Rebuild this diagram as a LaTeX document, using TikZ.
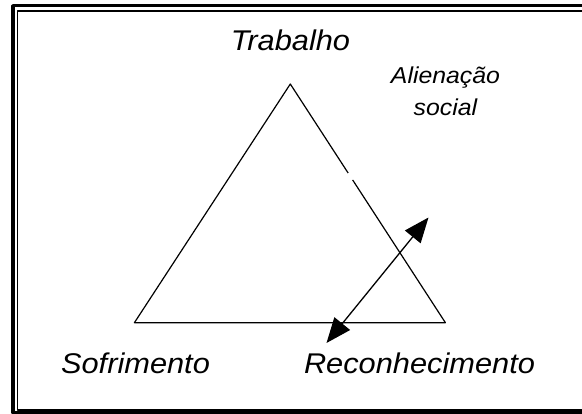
\documentclass[tikz,border=0pt]{standalone}
\usepackage{fontspec}
\newfontfamily\lblfont[FakeStretch=1.08]{Liberation Sans}
\usetikzlibrary{arrows.meta,calc}

\begin{document}
\begin{tikzpicture}[x=1pt, y=-1pt, line join=round, >={Triangle[length=25pt,width=20pt]},
	lbl/.style={inner sep=0pt, anchor=base, font=\lblfont\itshape\fontsize{28.5}{32}\selectfont},
	lblsmall/.style={lbl, align=center, font=\lblfont\itshape\fontsize{23}{32}\selectfont}]
	\useasboundingbox (0,0) rectangle (582,414);
	% double frame
	\draw[line width=3.6pt] (13,5.7) rectangle (600,413);
	\draw[line width=1.6pt] (17.5,10.8) rectangle (595,410.3);
	\path
	(290.3,84) coordinate (T)
	(134.4,322.7) coordinate (S)
	(445.4,322.7) coordinate (R)
	($(T)!0.373!(R)$) coordinate (G1)
	($(T)!0.402!(R)$) coordinate (G2)
	(326.5,343) coordinate (A1)
	(428.5,217.5) coordinate (A2)
	;
	\draw[line width=1.2pt] (G1)--(T)--(S)--(R)--(G2);
	\draw[line width=1.3pt,<->] (A1)--(A2);
	\node[lbl] (trab) at (290.5,50.7) {Trabalho};
	\node[lblsmall] (alien) at (445.5,116) {Alienação\\social};
	\node[lbl] (sofr) at (135.5,374) {Sofrimento};
	\node[lbl] (reco) at (419.5,374) {Reconhecimento};
\end{tikzpicture}
\end{document}
